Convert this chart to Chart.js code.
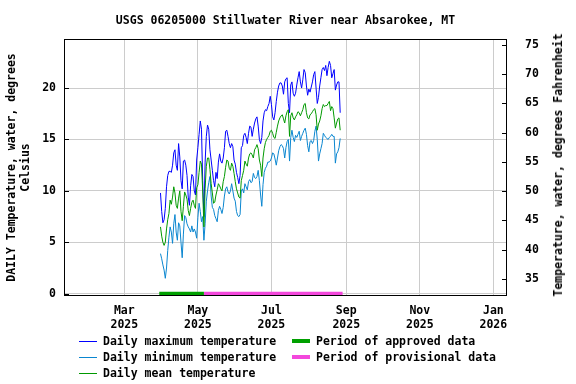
<!DOCTYPE html>
<html>
<head>
<meta charset="utf-8">
<script src="https://cdn.jsdelivr.net/npm/chart.js@4.4.1/dist/chart.umd.min.js"></script>
<style>
  body { margin: 0; background: #fff; }
  #wrap { position: relative; width: 576px; height: 384px; font: bold 11.5px "DejaVu Sans Mono", monospace; color: #000; }
  #c { position: absolute; left: 0; top: 0; }
  .title { position: absolute; left: 0; width: 571px; top: 13px; text-align: center; white-space: nowrap; }
  .rtitle { position: absolute; left: 558px; top: 165px; transform: translate(-50%, -50%) rotate(-90deg); white-space: nowrap; }
  .leg { position: absolute; white-space: nowrap; line-height: 14px; }
  .leg span.ln { position: absolute; left: -24px; top: 7px; width: 18px; height: 1px; }
  .leg span.bar { position: absolute; left: -24px; top: 5px; width: 18px; height: 4px; }
</style>
</head>
<body>
<div id="wrap">
  <canvas id="c" width="576" height="384"></canvas>
  <div class="title">USGS 06205000 Stillwater River near Absarokee, MT</div>
  <div class="rtitle">Temperature, water, degrees Fahrenheit</div>
  <div class="leg" style="left:103px; top:334px"><span class="ln" style="background:#0000ff"></span>Daily maximum temperature</div>
  <div class="leg" style="left:103px; top:350px"><span class="ln" style="background:#0a86d0"></span>Daily minimum temperature</div>
  <div class="leg" style="left:103px; top:366px"><span class="ln" style="background:#009900"></span>Daily mean temperature</div>
  <div class="leg" style="left:316px; top:334px"><span class="bar" style="background:#00a000"></span>Period of approved data</div>
  <div class="leg" style="left:316px; top:350px"><span class="bar" style="background:#f348dc"></span>Period of provisional data</div>
</div>
<script>
// day numbers counted from Jan 1 2025 (= 0)
var firstDay = 89; // Mar 31 2025

var maxTemp = [9.8,8.0,6.9,7.2,8.3,10.4,11.5,11.9,11.9,11.8,
  12.5,13.7,14.0,12.5,12.0,14.6,13.3,11.0,10.2,12.9,
  13.0,12.5,11.5,9.4,8.6,10.5,11.6,11.4,10.0,9.6,
  13.0,14.2,15.5,16.8,16.0,11.0,7.5,12.8,15.3,16.4,
  16.0,14.0,13.0,12.0,11.0,10.4,11.8,11.2,12.8,13.6,
  12.9,12.7,13.2,14.2,15.8,15.9,15.3,14.6,14.2,14.6,
  14.3,13.0,12.6,11.8,11.3,10.7,11.5,14.2,14.4,15.4,
  15.6,15.2,14.6,15.6,16.3,16.2,15.3,16.0,16.6,17.0,
  17.2,16.3,15.0,14.6,15.2,16.8,17.6,17.9,17.8,18.2,
  18.5,19.2,18.4,17.2,16.9,17.6,18.7,19.6,20.2,20.5,
  20.5,20.2,19.4,20.6,20.9,21.0,18.5,17.6,20.3,20.6,
  19.5,19.2,19.5,20.3,21.0,21.6,20.6,20.0,20.8,21.8,
  21.5,20.2,19.3,19.9,19.6,20.1,20.6,21.3,21.6,20.0,
  18.5,19.1,20.2,21.0,21.8,22.0,21.7,22.2,21.2,22.0,
  22.6,22.2,21.0,21.4,21.8,19.8,20.3,20.6,20.6,17.6];

var minTemp = [3.9,3.4,2.8,2.3,1.5,2.5,4.2,5.5,6.5,6.0,
  4.9,6.8,7.7,6.0,5.2,6.9,6.6,5.0,3.5,5.8,
  7.6,7.4,6.8,6.5,6.3,6.0,6.6,6.0,6.3,6.0,
  5.4,7.4,8.8,8.0,7.0,7.5,5.2,6.8,9.0,10.0,
  10.8,11.4,9.5,8.4,8.2,7.6,7.3,7.0,8.1,8.5,
  8.2,7.8,8.4,9.5,10.2,10.4,9.9,9.7,10.0,10.7,
  10.0,9.3,9.0,8.0,7.6,7.5,7.7,10.0,10.2,9.8,
  10.7,10.4,10.1,10.9,11.1,10.8,10.9,11.7,11.3,11.2,
  11.4,12.0,11.0,9.6,8.5,10.6,11.8,12.2,12.4,12.8,
  12.8,12.9,13.2,13.7,13.6,13.1,12.5,13.2,13.9,14.3,
  14.5,14.4,14.1,13.2,14.2,14.8,15.0,12.9,15.2,15.9,
  15.2,14.8,15.4,15.2,15.5,15.8,14.9,15.3,15.6,15.9,
  16.1,15.5,14.4,13.8,14.8,14.9,14.6,14.9,15.8,16.3,
  15.0,12.9,13.6,14.1,14.6,15.6,15.4,15.2,15.1,15.0,
  15.2,15.3,15.5,15.3,15.3,12.7,13.6,13.8,14.2,15.1];

var meanTemp = [6.5,5.6,5.0,4.7,5.0,6.3,7.2,7.8,9.1,8.7,
  9.4,10.4,9.8,8.6,8.3,9.3,10.0,8.0,7.1,8.5,
  9.9,9.6,9.2,8.1,7.6,8.3,8.9,9.1,8.6,8.3,
  10.3,10.6,11.8,12.9,12.6,10.0,6.5,10.2,12.4,13.2,
  13.2,12.1,10.7,9.8,8.8,8.9,9.6,10.1,10.7,10.5,
  10.2,10.0,10.9,11.4,12.3,13.0,12.9,12.2,12.0,12.7,
  12.4,11.7,10.9,10.2,9.8,9.4,9.3,11.0,11.5,12.0,
  12.9,12.6,12.4,13.2,13.6,13.7,13.5,13.2,14.0,14.2,
  14.5,14.1,13.0,12.5,11.4,13.2,14.1,14.7,15.0,15.2,
  15.4,15.8,15.9,15.6,15.2,15.1,15.7,16.3,16.8,17.1,
  17.3,17.4,17.0,16.6,17.3,17.7,17.9,15.3,17.3,17.6,
  17.1,16.9,17.2,17.4,17.7,17.6,17.3,17.6,17.9,18.4,
  18.5,17.6,17.1,17.0,17.4,17.5,17.7,17.9,18.0,17.4,
  15.9,16.5,16.8,17.3,18.0,18.4,18.2,18.3,18.3,18.5,
  18.7,17.8,18.2,18.0,17.1,16.1,16.6,17.0,17.1,15.9];

var approvedPeriod = [88, 125];
var provisionalPeriod = [125, 240];

var monthTickDays = [59, 120, 181, 243, 304, 365];
var monthTickLabels = [['Mar','2025'], ['May','2025'], ['Jul','2025'], ['Sep','2025'], ['Nov','2025'], ['Jan','2026']];
var celsiusTicks = [0, 5, 10, 15, 20];
var fahrenheitTicks = [35, 40, 45, 50, 55, 60, 65, 70, 75];

function toPoints(arr) {
    return arr.map(function (v, i) { return { x: firstDay + i, y: v }; });
}
function periodPoints(p) {
    return [{ x: p[0], y: 0 }, { x: p[1], y: 0 }];
}

var tickFont = { family: 'DejaVu Sans Mono', size: 11.5, weight: 'bold' };

var frame_plugin = {
    id: 'frame',
    afterDraw: function (chart) {
        var ctx = chart.ctx, a = chart.chartArea, s = chart.scales;
        ctx.save();
        ctx.strokeStyle = '#000';
        ctx.lineWidth = 1;
        ctx.strokeRect(Math.round(a.left) + 0.5, Math.round(a.top) + 0.5,
            Math.round(a.right - a.left) - 1, Math.round(a.bottom - a.top) - 1);
        ctx.beginPath();
        s.y.ticks.forEach(function (t) {
            var p = Math.round(s.y.getPixelForValue(t.value)) + 0.5;
            ctx.moveTo(a.left, p); ctx.lineTo(a.left + 5, p);
        });
        s.y2.ticks.forEach(function (t) {
            var p = Math.round(s.y2.getPixelForValue(t.value)) + 0.5;
            ctx.moveTo(a.right - 5, p); ctx.lineTo(a.right, p);
        });
        ctx.stroke();
        ctx.restore();
    }
};

var temp_chart = new Chart(document.getElementById('c'), {
    type: 'line',
    data: {
        datasets: [{
            label: 'Period of approved data',
            data: periodPoints(approvedPeriod),
            borderColor: '#00a000',
            borderWidth: 4,
            order: 0,
        },
        {
            label: 'Period of provisional data',
            data: periodPoints(provisionalPeriod),
            borderColor: '#f348dc',
            borderWidth: 4,
            order: 0,
        },
        {
            label: 'Daily mean temperature',
            data: toPoints(meanTemp),
            borderColor: '#009900',
            borderWidth: 1,
            order: 1,
        },
        {
            label: 'Daily minimum temperature',
            data: toPoints(minTemp),
            borderColor: '#0a86d0',
            borderWidth: 1,
            order: 2,
        },
        {
            label: 'Daily maximum temperature',
            data: toPoints(maxTemp),
            borderColor: '#0000ff',
            borderWidth: 1,
            order: 3,
        }]
    },
    options: {
        responsive: false,
        animation: false,
        devicePixelRatio: 1,
        elements: { point: { radius: 0 }, line: { tension: 0, fill: false } },
        layout: { padding: { top: 39, left: 0, right: 0, bottom: 0 } },
        plugins: {
            legend: { display: false },
            tooltip: { enabled: false },
        },
        scales: {
            x: {
                type: 'linear',
                min: 9,
                max: 376.3,
                afterBuildTicks: function (scale) {
                    scale.ticks = monthTickDays.map(function (d) { return { value: d }; });
                },
                afterFit: function (scale) { scale.height = 88; },
                ticks: {
                    autoSkip: false,
                    maxRotation: 0,
                    padding: 8,
                    color: '#000',
                    font: tickFont,
                    callback: function (v) {
                        var i = monthTickDays.indexOf(v);
                        return i >= 0 ? monthTickLabels[i] : '';
                    }
                },
                grid: { color: '#cccccc', drawTicks: false },
                border: { display: false },
            },
            y: {
                position: 'left',
                min: -0.22,
                max: 24.77,
                afterBuildTicks: function (scale) {
                    scale.ticks = celsiusTicks.map(function (v) { return { value: v }; });
                },
                afterFit: function (scale) { scale.width = 64; },
                ticks: { padding: 8, color: '#000', font: tickFont },
                grid: { color: '#cccccc', drawTicks: false },
                border: { display: false },
                title: {
                    display: true,
                    text: ['DAILY Temperature, water, degrees', 'Celsius'],
                    color: '#000',
                    font: tickFont,
                    padding: { top: 5, bottom: 0 },
                },
            },
            y2: {
                position: 'right',
                min: 32.1,
                max: 75.97,
                afterBuildTicks: function (scale) {
                    scale.ticks = fahrenheitTicks.map(function (v) { return { value: v }; });
                },
                afterFit: function (scale) { scale.width = 69; },
                ticks: { padding: 18, color: '#000', font: tickFont },
                grid: { display: false, drawTicks: false },
                border: { display: false },
            }
        }
    },
    plugins: [frame_plugin]
});
</script>
</body>
</html>
